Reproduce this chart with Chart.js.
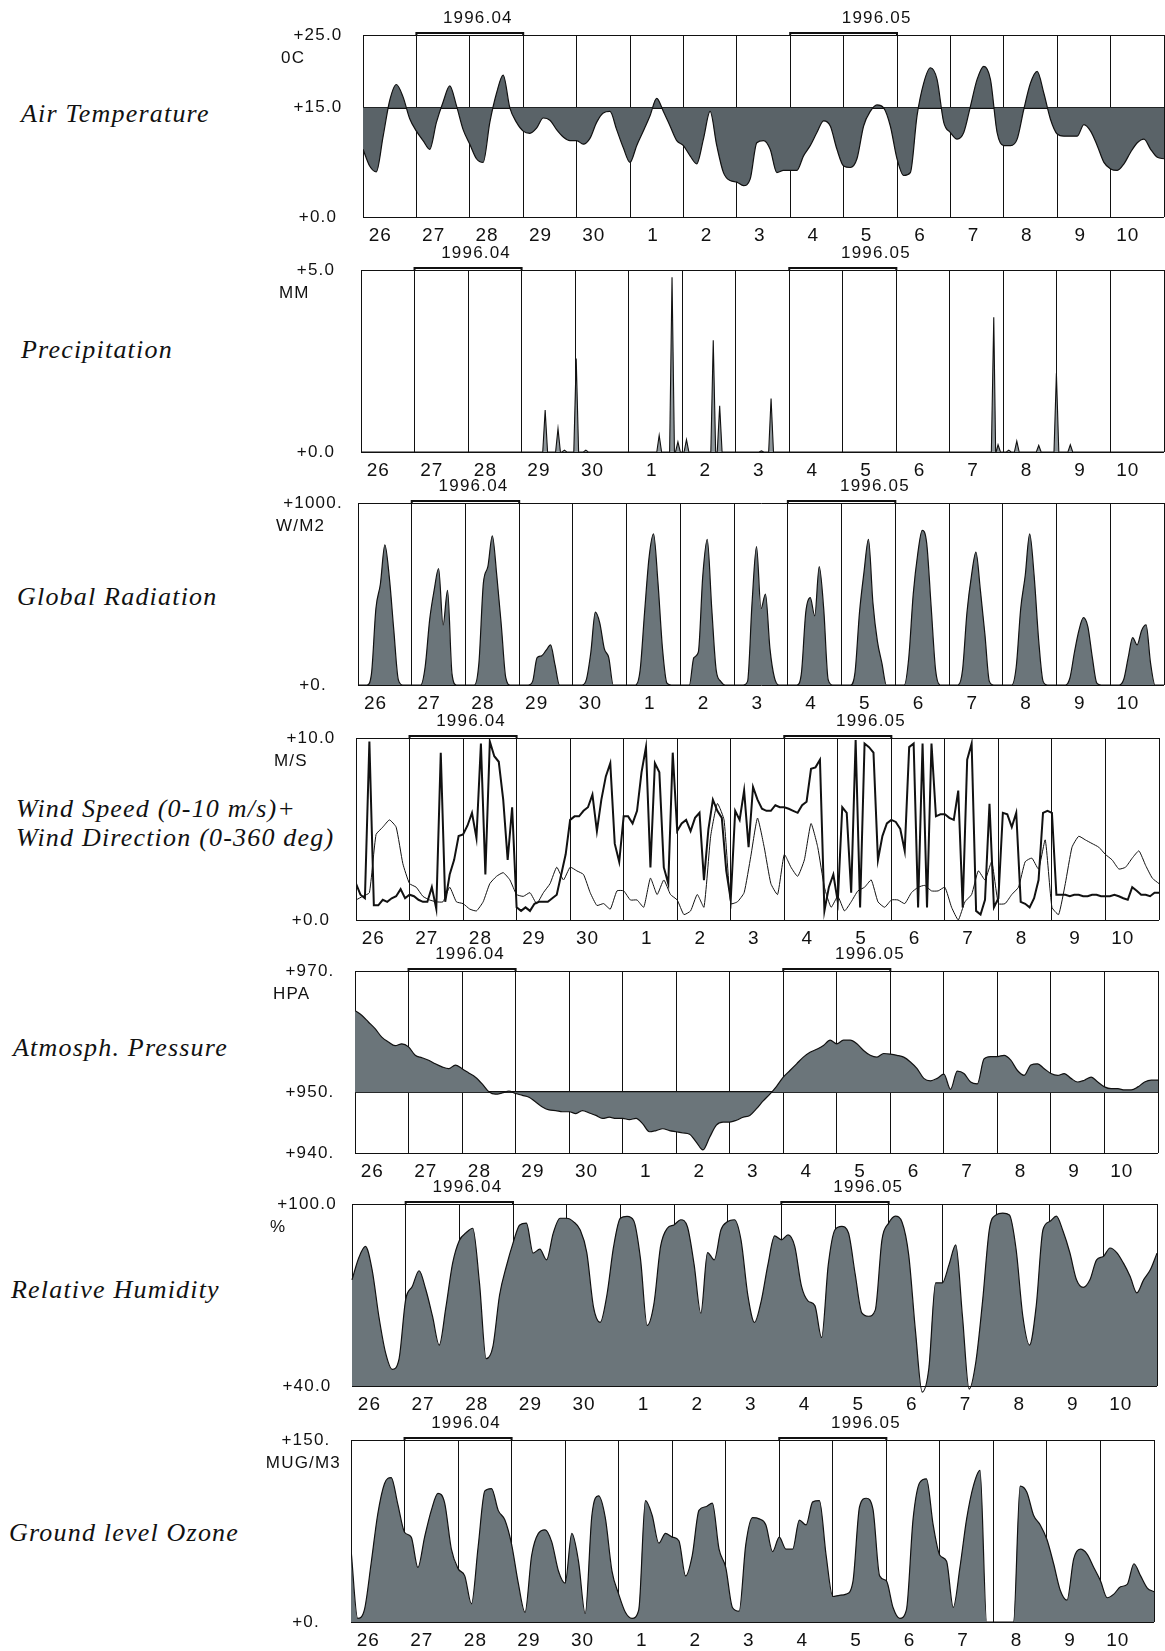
<!DOCTYPE html>
<html>
<head>
<meta charset="utf-8">
<title>Meteorological record 26 April - 10 May 1996</title>
<script src="https://cdn.jsdelivr.net/npm/chart.js@4/dist/chart.umd.min.js"></script>
<style>
  html, body { margin: 0; padding: 0; background: #fff; }
  body { width: 1165px; height: 1651px; position: relative; overflow: hidden; }
  canvas { position: absolute; left: 0; }
  .title {
    position: absolute;
    font-family: 'Liberation Serif', 'Times New Roman', serif;
    font-style: italic;
    font-size: 26px;
    letter-spacing: 1.2px;
    line-height: 29px;
    color: #111;
    white-space: nowrap;
  }
</style>
</head>
<body>
<div class="title" style="left:21px;top:99px">Air Temperature</div>
<div class="title" style="left:21px;top:335px">Precipitation</div>
<div class="title" style="left:17px;top:582px">Global Radiation</div>
<div class="title" style="left:16px;top:794px">Wind Speed (0-10 m/s)+<br>Wind Direction (0-360 deg)</div>
<div class="title" style="left:13px;top:1033px">Atmosph. Pressure</div>
<div class="title" style="left:11px;top:1275px">Relative Humidity</div>
<div class="title" style="left:9px;top:1518px">Ground level Ozone</div>

<script>
// ---------------------------------------------------------------------------
// Data: 15 days starting 1996-04-26 00:00; x is measured in days.
// ---------------------------------------------------------------------------
const dayLabels = ['26', '27', '28', '29', '30', '1', '2', '3', '4', '5', '6', '7', '8', '9', '10'];

const monthLabels = ['1996.04', '1996.05'];
const monthSpanFrom = [1, 8];
const monthSpanTo = [3, 10];
const monthLabelAt = [2.15, 9.62];

// Air temperature, 3-hourly (deg C)
const airTemp = [
  9.3, 7.0, 6.2, 11.0, 16.0, 18.2, 16.5, 13.5,
  11.8, 10.5, 9.3, 13.0, 15.8, 18.0, 15.3, 12.0,
  10.0, 8.0, 7.5, 13.0, 17.0, 19.5, 15.0, 13.0,
  11.8, 11.5, 12.2, 13.6, 13.3, 12.0, 11.0, 10.5,
  10.5, 10.0, 10.8, 13.0, 14.3, 14.5, 12.0, 9.5,
  7.5, 9.8, 11.8, 13.9, 16.3, 14.5, 12.5, 10.5,
  9.8, 8.4, 7.3, 10.7, 14.5, 9.8, 6.1, 5.0,
  4.8, 4.3, 5.2, 10.2, 10.5, 9.3, 6.1, 6.4,
  6.4, 6.4, 8.4, 9.8, 11.6, 13.2, 12.5, 9.3,
  7.0, 6.8, 8.0, 12.5, 14.5, 15.4, 15.0, 12.5,
  8.0, 5.7, 6.1, 13.9, 18.4, 20.5, 18.9, 13.0,
  11.6, 10.7, 11.6, 15.2, 18.9, 20.7, 18.9, 11.6,
  9.8, 9.8, 10.7, 14.8, 18.4, 20.0, 17.0, 13.4,
  11.4, 11.1, 11.1, 11.1, 12.7, 11.8, 9.8, 7.5,
  6.6, 6.4, 7.3, 8.9, 10.2, 10.7, 9.3, 8.2, 8.0
];
const tempTicks = [0, 15, 25];
const tempTickLabels = ['+0.0', '+15.0', '+25.0'];

// Precipitation showers: time (days) and amount (mm)
const rainDay = [3.44, 3.68, 3.80, 4.02, 4.20, 5.57, 5.81, 5.92, 6.08, 6.58, 6.70, 7.48, 7.66,
                 11.82, 11.90, 12.10, 12.25, 12.66, 12.99, 13.25];
const rainMM = [1.15, 0.64, 0.05, 2.57, 0.05, 0.46, 4.8, 0.28, 0.34, 3.07, 1.27, 0.03, 1.47,
                3.7, 0.2, 0.05, 0.3, 0.18, 2.16, 0.2];
const rainTicks = [0, 5];
const rainTickLabels = ['+0.0', '+5.0'];

// Global radiation, 2-hourly (W/m2)
const radiation = [
  0, 0, 0, 60, 420, 555, 770, 590, 300, 30, 0, 0,
  0, 0, 0, 100, 358, 520, 640, 330, 520, 60, 0, 0,
  0, 0, 0, 120, 560, 650, 820, 600, 330, 40, 0, 0,
  0, 0, 0, 20, 150, 160, 190, 220, 110, 0, 0, 0,
  0, 0, 0, 30, 180, 400, 340, 200, 150, 0, 0, 0,
  0, 0, 0, 80, 400, 700, 830, 560, 200, 10, 0, 0,
  0, 0, 0, 150, 180, 600, 800, 420, 80, 20, 0, 0,
  0, 0, 0, 20, 450, 760, 420, 500, 200, 40, 0, 0,
  0, 0, 0, 60, 400, 480, 380, 650, 420, 30, 0, 0,
  0, 0, 0, 70, 400, 620, 800, 450, 240, 120, 0, 0,
  0, 0, 0, 150, 500, 720, 850, 780, 430, 80, 0, 0,
  0, 0, 0, 80, 400, 600, 730, 520, 280, 20, 0, 0,
  0, 0, 0, 100, 420, 600, 830, 600, 250, 20, 0, 0,
  0, 0, 0, 40, 180, 300, 370, 320, 150, 10, 0, 0,
  0, 0, 0, 30, 150, 260, 220, 300, 330, 120, 0, 0,
  0
];
const radTicks = [0, 1000];
const radTickLabels = ['+0.', '+1000.'];

// Wind direction, 2-hourly (degrees)
const windDir = [
  72, 50, 43, 353, 29, 29, 40, 36, 43, 47, 61, 43,
  50, 47, 40, 36, 36, 65, 22, 331, 36, 90, 119, 166,
  169, 187, 212, 162, 349, 90, 353, 324, 313, 238, 119, 223,
  25, 18, 25, 18, 32, 36, 36, 36, 43, 50, 90, 130,
  198, 205, 205, 216, 223, 248, 176, 238, 284, 310, 151, 115,
  205, 205, 191, 216, 292, 342, 104, 310, 292, 104, 72, 331,
  176, 191, 198, 176, 202, 212, 79, 180, 238, 216, 202, 97,
  40, 216, 198, 256, 144, 263, 238, 220, 216, 216, 227, 223,
  223, 220, 216, 212, 227, 234, 299, 302, 317, 18, 65, 90,
  36, 223, 212, 54, 356, 25, 349, 342, 331, 119, 166, 191,
  198, 194, 180, 137, 342, 349, 25, 349, 25, 349, 205, 209,
  209, 202, 198, 256, 25, 317, 349, 18, 11, 40, 230, 25,
  43, 212, 209, 184, 212, 36, 32, 25, 43, 79, 212, 216,
  212, 50, 50, 50, 47, 50, 50, 47, 47, 50, 50, 47,
  47, 47, 50, 47, 43, 40, 65, 58, 50, 50, 47, 54,
  54
];
// Wind speed, 3-hourly (m/s)
const windSpeed = [
  1.1, 1.3, 1.5, 4.7, 5.1, 5.5, 5.1, 3.1,
  2.0, 1.8, 1.3, 1.1, 1.0, 1.0, 1.8, 1.0,
  0.9, 0.6, 0.5, 1.0, 2.0, 2.4, 2.6, 2.2,
  1.4, 1.3, 1.5, 0.9, 1.5, 2.0, 2.9, 2.2,
  2.9, 2.7, 2.5, 1.5, 0.8, 0.9, 0.6, 1.6,
  1.6, 1.1, 1.1, 0.7, 2.3, 1.4, 2.2, 1.4,
  1.1, 0.3, 0.5, 1.4, 0.7, 4.6, 6.4, 5.5,
  0.9, 1.0, 1.5, 3.5, 5.6, 4.0, 2.0, 1.4,
  3.6, 2.9, 2.4, 3.3, 5.3, 4.0, 1.8, 0.7,
  1.3, 0.5, 1.0, 1.6, 1.8, 2.2, 1.0, 0.7,
  1.1, 1.1, 0.9, 1.5, 1.8, 1.9, 1.6, 1.6,
  1.8, 0.7, 0.0, 1.0, 1.4, 2.7, 2.2, 3.2,
  0.9, 0.9, 1.4, 1.8, 3.2, 3.4, 2.8, 4.4,
  0.7, 0.3, 2.0, 4.0, 4.6, 4.4, 4.2, 4.0,
  3.6, 3.3, 2.8, 2.9, 3.4, 3.8, 3.0, 2.3, 2.0
];
const windTicks = [0, 10];
const windTickLabels = ['+0.0', '+10.0'];

// Atmospheric pressure, 3-hourly (hPa)
const pressure = [
  963.5, 962.7, 961.6, 960.5, 959.1, 958.3, 957.7, 958.0,
  957.5, 956.1, 955.7, 955.3, 954.7, 954.2, 953.9, 954.5,
  953.9, 953.2, 952.5, 951.4, 950.1, 949.7, 949.9, 950.2,
  949.8, 949.5, 949.2, 948.4, 947.6, 947.1, 947.0, 946.8,
  946.8, 946.5, 947.0, 946.6, 946.2, 945.7, 945.9, 945.7,
  945.7, 945.5, 945.7, 944.8, 943.5, 943.7, 944.0, 943.7,
  943.5, 943.3, 943.1, 941.8, 940.5, 942.6, 944.6, 945.1,
  945.1, 945.4, 945.9, 946.2, 947.3, 948.6, 949.7, 951.0,
  952.5, 953.6, 954.7, 955.8, 956.6, 957.1, 957.7, 958.6,
  958.0, 958.6, 958.6, 958.0, 956.9, 956.1, 955.8, 956.4,
  956.3, 956.1, 955.8, 955.0, 953.9, 952.3, 951.9, 952.3,
  953.0, 950.5, 953.5, 953.1, 951.7, 951.4, 955.5, 955.9,
  955.9, 956.1, 955.3, 953.6, 952.8, 954.5, 954.7, 953.9,
  953.1, 952.8, 953.1, 952.3, 951.7, 952.0, 952.5, 951.7,
  950.9, 950.6, 950.6, 950.4, 950.4, 950.9, 951.7, 952.0, 952.0
];
const pressTicks = [940, 950, 970];
const pressTickLabels = ['+940.', '+950.', '+970.'];

// Relative humidity, 3-hourly (%)
const humidity = [
  75.0, 82.2, 86.0, 78.3, 63.0, 51.0, 45.5, 48.8,
  68.5, 72.9, 78.0, 71.8, 63.0, 53.5, 66.0, 80.5,
  88.0, 90.5, 92.0, 74.0, 49.0, 53.0, 70.0, 79.4,
  87.1, 93.1, 93.7, 83.8, 85.1, 81.6, 90.4, 95.3,
  95.3, 94.2, 91.5, 84.0, 66.0, 61.0, 70.0, 86.0,
  95.3, 95.9, 94.5, 82.0, 60.0, 67.0, 86.0, 92.0,
  93.1, 94.8, 92.5, 80.0, 64.0, 84.0, 81.6, 91.5,
  94.2, 94.8, 88.0, 70.0, 61.0, 68.0, 80.0, 89.5,
  88.2, 89.8, 86.0, 72.9, 68.0, 66.5, 56.0, 80.0,
  91.5, 92.6, 90.5, 77.0, 64.1, 63.0, 65.0, 88.2,
  93.7, 96.0, 94.0, 83.0, 58.0, 38.0, 46.0, 74.0,
  74.0, 80.0, 86.5, 63.0, 39.0, 48.0, 68.0, 91.5,
  96.4, 97.0, 96.4, 85.0, 63.0, 53.5, 66.5, 91.5,
  94.2, 96.0, 91.0, 84.0, 75.0, 72.5, 75.0, 81.6,
  82.7, 85.5, 84.0, 80.5, 76.1, 70.7, 75.0, 78.3, 83.8
];
const humTicks = [40, 100];
const humTickLabels = ['+40.0', '+100.0'];

// Ground level ozone, 3-hourly (ug/m3)
const ozone = [
  60, 3, 10, 48, 89, 114, 119, 97,
  74, 70, 45, 70, 92, 106, 98, 60,
  44, 38, 15, 62, 108, 110, 92, 84,
  64, 32, 8, 55, 73, 76, 66, 42,
  32, 73, 50, 7, 88, 104, 86, 42,
  23, 8, 3, 10, 100, 88, 65, 73,
  70, 67, 38, 55, 92, 95, 98, 60,
  45, 12, 9, 64, 86, 85, 80, 58,
  70, 60, 60, 84, 80, 99, 100, 55,
  21, 22, 23, 33, 95, 102, 93, 38,
  34, 12, 3, 10, 85, 115, 118, 80,
  55, 50, 12, 45, 85, 112, 125, 0,
  0, 0, 0, 0, 112, 107, 88, 80,
  68, 48, 26, 18, 52, 60, 56, 45,
  34, 20, 23, 29, 31, 48, 38, 28, 25
];
const ozoneTicks = [0, 150];
const ozoneTickLabels = ['+0.', '+150.'];

// ---------------------------------------------------------------------------
// Page layout and styling
// ---------------------------------------------------------------------------
const WIDTH = 1165;
const PAD_TOP = 40;      // room above each plot for the month brackets
const PLOT_H = 182;      // height of each plot area
const LABEL_BAND = 30;   // room below each plot for the day labels
const INK = '#111';
const FILL = '#6b757a';
const FILL_DARK = '#5a6368';
const SANS = "'Liberation Sans', Arial, Helvetica, sans-serif";

const layout = {
  temp:   { left: 363, top: 35,   right: 1164 },
  rain:   { left: 361, top: 270,  right: 1164 },
  rad:    { left: 358, top: 503,  right: 1164 },
  wind:   { left: 356, top: 738,  right: 1159 },
  press:  { left: 355, top: 971,  right: 1158 },
  hum:    { left: 352, top: 1204, right: 1157 },
  ozone:  { left: 351, top: 1440, right: 1154 }
};

Chart.defaults.font.family = SANS;
Chart.defaults.color = INK;

// regular time series -> {x (days), y} points
function series(values, perDay) {
  return values.map((v, i) => ({ x: i / perDay, y: v }));
}

// narrow triangular spikes for the shower record
function showers(days, amounts) {
  const half = 0.045;
  const pts = [{ x: 0, y: 0 }, { x: 15, y: 0 }];
  days.forEach((d, i) => {
    pts.push({ x: d - half, y: 0 }, { x: d, y: amounts[i] }, { x: d + half, y: 0 });
  });
  return pts.sort((a, b) => a.x - b.x);
}

function makePanel(key, spec) {
  const box = layout[key];
  const canvas = document.createElement('canvas');
  canvas.width = WIDTH;
  canvas.height = PAD_TOP + PLOT_H + LABEL_BAND;
  canvas.style.top = (box.top - PAD_TOP) + 'px';
  document.body.appendChild(canvas);

  // axis values, unit and month brackets drawn from the chart's own scales
  const decor = {
    id: 'panelDecor',
    beforeDraw(chart) { chart.ctx.letterSpacing = '1px'; },
    afterDraw(chart) {
      const { ctx, chartArea: a, scales } = chart;
      const xs = scales.x, ys = scales.y;
      ctx.save();
      ctx.fillStyle = INK;
      ctx.strokeStyle = INK;
      ctx.letterSpacing = '1.2px';
      ctx.font = '17px ' + SANS;
      ctx.textBaseline = 'middle';

      ctx.textAlign = 'center';
      spec.ticks.forEach((v, i) => {
        ctx.fillText(spec.tickLabels[i], a.left - 45, ys.getPixelForValue(v));
      });

      ctx.textAlign = 'left';
      const uw = ctx.measureText(spec.unit).width;
      const topVal = spec.ticks[spec.ticks.length - 1];
      ctx.fillText(spec.unit, Math.min(a.left - 82, a.left - 10 - uw), ys.getPixelForValue(topVal) + 23);

      ctx.lineWidth = 2;
      monthLabels.forEach((label, i) => {
        const x0 = xs.getPixelForValue(monthSpanFrom[i]);
        const x1 = xs.getPixelForValue(monthSpanTo[i]);
        ctx.beginPath();
        ctx.moveTo(x0, a.top);
        ctx.lineTo(x0, a.top - 2);
        ctx.lineTo(x1, a.top - 2);
        ctx.lineTo(x1, a.top);
        ctx.stroke();
        ctx.textAlign = 'center';
        ctx.fillText(label, xs.getPixelForValue(monthLabelAt[i]), a.top - 17);
      });
      ctx.restore();
    }
  };

  const scales = {
    x: {
      type: 'linear', min: 0, max: 15, position: 'bottom', z: 1,
      ticks: { display: false, stepSize: 1 },
      grid: { color: INK, lineWidth: 1, drawTicks: false },
      border: { display: false },
      afterFit: s => { s.height = 0; }
    },
    xd: {
      type: 'linear', min: 0, max: 15, position: 'bottom',
      grid: { display: false, drawTicks: false },
      border: { display: false },
      afterBuildTicks: s => { s.ticks = dayLabels.map((_, i) => ({ value: i + 0.54 })); },
      ticks: {
        align: 'end', autoSkip: false, maxRotation: 0, padding: 7, color: INK,
        font: { family: SANS, size: 19 },
        callback: (v, i) => dayLabels[i]
      },
      afterFit: s => { s.height = LABEL_BAND; }
    },
    y: {
      type: 'linear', min: spec.min, max: spec.max, position: 'left', z: 1,
      afterBuildTicks: s => { s.ticks = spec.ticks.map(v => ({ value: v })); },
      ticks: { display: false },
      grid: {
        color: INK, drawTicks: false,
        lineWidth: c => (spec.ref !== undefined && c.tick && c.tick.value === spec.ref) ? 2 : 1
      },
      border: { display: true, color: INK, width: 1 },
      afterFit: s => { s.width = 0; }
    }
  };
  Object.assign(scales, spec.extraScales || {});

  return new Chart(canvas, {
    type: 'line',
    data: { datasets: spec.datasets },
    options: {
      responsive: false,
      animation: false,
      devicePixelRatio: 1,
      layout: { padding: { top: PAD_TOP, left: box.left, right: WIDTH - box.right, bottom: 0 } },
      plugins: { legend: { display: false }, tooltip: { enabled: false } },
      elements: { point: { radius: 0 }, line: { borderColor: INK, borderWidth: 1.2 } },
      scales
    },
    plugins: [decor]
  });
}

// ---------------------------------------------------------------------------
// Panels
// ---------------------------------------------------------------------------
makePanel('temp', {
  min: 0, max: 25, ref: 15, ticks: tempTicks, tickLabels: tempTickLabels, unit: '0C',
  datasets: [{
    label: 'Air Temperature', data: series(airTemp, 8),
    fill: { value: 15 }, backgroundColor: FILL_DARK, cubicInterpolationMode: 'monotone'
  }]
});

makePanel('rain', {
  min: 0, max: 5, ticks: rainTicks, tickLabels: rainTickLabels, unit: 'MM',
  datasets: [{
    label: 'Precipitation', data: showers(rainDay, rainMM),
    fill: 'origin', backgroundColor: '#8f979b', borderWidth: 1.1
  }]
});

makePanel('rad', {
  min: 0, max: 1000, ticks: radTicks, tickLabels: radTickLabels, unit: 'W/M2',
  datasets: [{
    label: 'Global Radiation', data: series(radiation, 12),
    fill: 'origin', backgroundColor: FILL, cubicInterpolationMode: 'monotone'
  }]
});

makePanel('wind', {
  min: 0, max: 10, ticks: windTicks, tickLabels: windTickLabels, unit: 'M/S',
  extraScales: {
    y2: { type: 'linear', min: 0, max: 360, display: false }
  },
  datasets: [
    { label: 'Wind Speed', data: series(windSpeed, 8), yAxisID: 'y',
      fill: false, borderWidth: 1, tension: 0.15 },
    { label: 'Wind Direction', data: series(windDir, 12), yAxisID: 'y2',
      fill: false, borderWidth: 2, tension: 0 }
  ]
});

makePanel('press', {
  min: 940, max: 970, ref: 950, ticks: pressTicks, tickLabels: pressTickLabels, unit: 'HPA',
  datasets: [{
    label: 'Atmospheric Pressure', data: series(pressure, 8),
    fill: { value: 950 }, backgroundColor: FILL, cubicInterpolationMode: 'monotone'
  }]
});

makePanel('hum', {
  min: 40, max: 100, ticks: humTicks, tickLabels: humTickLabels, unit: '%',
  datasets: [{
    label: 'Relative Humidity', data: series(humidity, 8), clip: false,
    fill: { value: 40 }, backgroundColor: FILL, cubicInterpolationMode: 'monotone'
  }]
});

makePanel('ozone', {
  min: 0, max: 150, ticks: ozoneTicks, tickLabels: ozoneTickLabels, unit: 'MUG/M3',
  datasets: [{
    label: 'Ground level Ozone', data: series(ozone, 8),
    fill: 'origin', backgroundColor: FILL, cubicInterpolationMode: 'monotone'
  }]
});
</script>
</body>
</html>
